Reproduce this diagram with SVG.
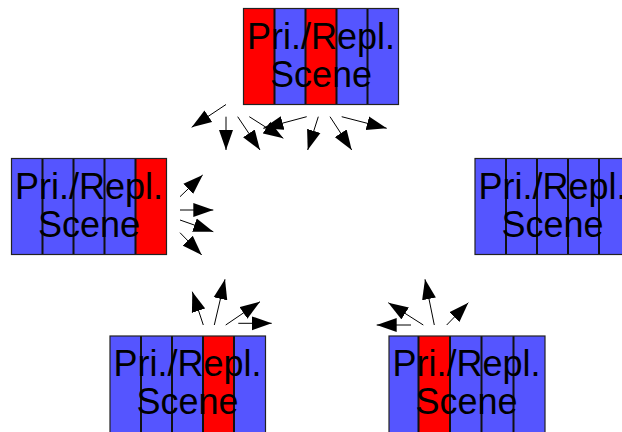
<svg xmlns="http://www.w3.org/2000/svg" width="622" height="432" viewBox="0 0 622 432">
<style>
.b{fill:#5555ff}
.r{fill:#ff0000}
.d{stroke:#111;stroke-width:2}
.o{fill:none;stroke:#222;stroke-width:1.2}
.t{font-family:"Liberation Sans",Arial,sans-serif;font-size:36px;fill:#000;text-anchor:middle}
.c{stroke:#000;stroke-width:1;fill:none;marker-end:url(#ah)}
</style>
<defs>
<marker id="ah" markerUnits="userSpaceOnUse" markerWidth="21" markerHeight="15" refX="20" refY="7" orient="auto" viewBox="0 0 21 14">
<path d="M0,0 L20,7 L0,14 z" fill="#000"/>
</marker>
</defs>
<g id="node-top" transform="translate(243.5,8.5)">
<rect class="r" x="0" y="0" width="31" height="96"/>
<rect class="b" x="31" y="0" width="31" height="96"/>
<rect class="r" x="62" y="0" width="31" height="96"/>
<rect class="b" x="93" y="0" width="31" height="96"/>
<rect class="b" x="124" y="0" width="31" height="96"/>
<path class="d" d="M31,0V96M62,0V96M93,0V96M124,0V96"/>
<rect class="o" x="0" y="0" width="155" height="96"/>
<text class="t" x="77.5" y="40.5">Pri./Repl.</text>
<text class="t" x="77.5" y="78.5">Scene</text>
</g>
<g id="node-left" transform="translate(11.5,158.5)">
<rect class="b" x="0" y="0" width="31" height="96"/>
<rect class="b" x="31" y="0" width="31" height="96"/>
<rect class="b" x="62" y="0" width="31" height="96"/>
<rect class="b" x="93" y="0" width="31" height="96"/>
<rect class="r" x="124" y="0" width="31" height="96"/>
<path class="d" d="M31,0V96M62,0V96M93,0V96M124,0V96"/>
<rect class="o" x="0" y="0" width="155" height="96"/>
<text class="t" x="77.5" y="40">Pri./Repl.</text>
<text class="t" x="77.5" y="78">Scene</text>
</g>
<g id="node-right" transform="translate(475,158.5)">
<rect class="b" x="0" y="0" width="31" height="96"/>
<rect class="b" x="31" y="0" width="31" height="96"/>
<rect class="b" x="62" y="0" width="31" height="96"/>
<rect class="b" x="93" y="0" width="31" height="96"/>
<rect class="b" x="124" y="0" width="31" height="96"/>
<path class="d" d="M31,0V96M62,0V96M93,0V96M124,0V96"/>
<rect class="o" x="0" y="0" width="155" height="96"/>
<text class="t" x="77.5" y="40">Pri./Repl.</text>
<text class="t" x="77.5" y="78">Scene</text>
</g>
<g id="node-bottom-left" transform="translate(110,336)">
<rect class="b" x="0" y="0" width="31" height="100"/>
<rect class="b" x="31" y="0" width="31" height="100"/>
<rect class="b" x="62" y="0" width="31" height="100"/>
<rect class="r" x="93" y="0" width="31" height="100"/>
<rect class="b" x="124" y="0" width="31.5" height="100"/>
<path class="d" d="M31,0V100M62,0V100M93,0V100M124,0V100"/>
<rect class="o" x="0" y="0" width="155.5" height="100"/>
<text class="t" x="77.5" y="40">Pri./Repl.</text>
<text class="t" x="77.5" y="78">Scene</text>
</g>
<g id="node-bottom-right" transform="translate(389,336)">
<rect class="b" x="0" y="0" width="29.5" height="100"/>
<rect class="r" x="29.5" y="0" width="31.5" height="100"/>
<rect class="b" x="61" y="0" width="31.5" height="100"/>
<rect class="b" x="92.5" y="0" width="32" height="100"/>
<rect class="b" x="124.5" y="0" width="31.5" height="100"/>
<path class="d" d="M29.5,0V100M61,0V100M92.5,0V100M124.5,0V100"/>
<rect class="o" x="0" y="0" width="156" height="100"/>
<text class="t" x="77.5" y="40">Pri./Repl.</text>
<text class="t" x="77.5" y="78">Scene</text>
</g>
<g id="connectors">
<line class="c" x1="226" y1="104.5" x2="191.7" y2="127.3"/>
<line class="c" x1="226" y1="116.7" x2="226" y2="150"/>
<line class="c" x1="237.7" y1="116.7" x2="260" y2="150"/>
<line class="c" x1="249.3" y1="116.7" x2="283.3" y2="138.3"/>
<line class="c" x1="306.7" y1="116.7" x2="263.3" y2="128.3"/>
<line class="c" x1="318.3" y1="116.7" x2="307.7" y2="150"/>
<line class="c" x1="330" y1="116.7" x2="351.7" y2="150"/>
<line class="c" x1="341.7" y1="116.7" x2="386.7" y2="128.3"/>
<line class="c" x1="180" y1="196.7" x2="202.7" y2="175"/>
<line class="c" x1="180" y1="210" x2="213.3" y2="210"/>
<line class="c" x1="180" y1="220" x2="213.3" y2="231.7"/>
<line class="c" x1="180" y1="232.7" x2="201.7" y2="255"/>
<line class="c" x1="203.3" y1="325" x2="192.3" y2="291.7"/>
<line class="c" x1="214.3" y1="325" x2="225" y2="279.3"/>
<line class="c" x1="225.7" y1="325" x2="260" y2="301.7"/>
<line class="c" x1="238.3" y1="323.3" x2="271.7" y2="323.3"/>
<line class="c" x1="411" y1="325" x2="376.7" y2="325"/>
<line class="c" x1="423.3" y1="325" x2="388.3" y2="302.7"/>
<line class="c" x1="434.3" y1="325" x2="425" y2="279.3"/>
<line class="c" x1="446.7" y1="325" x2="468.3" y2="302.7"/>
</g>
</svg>
